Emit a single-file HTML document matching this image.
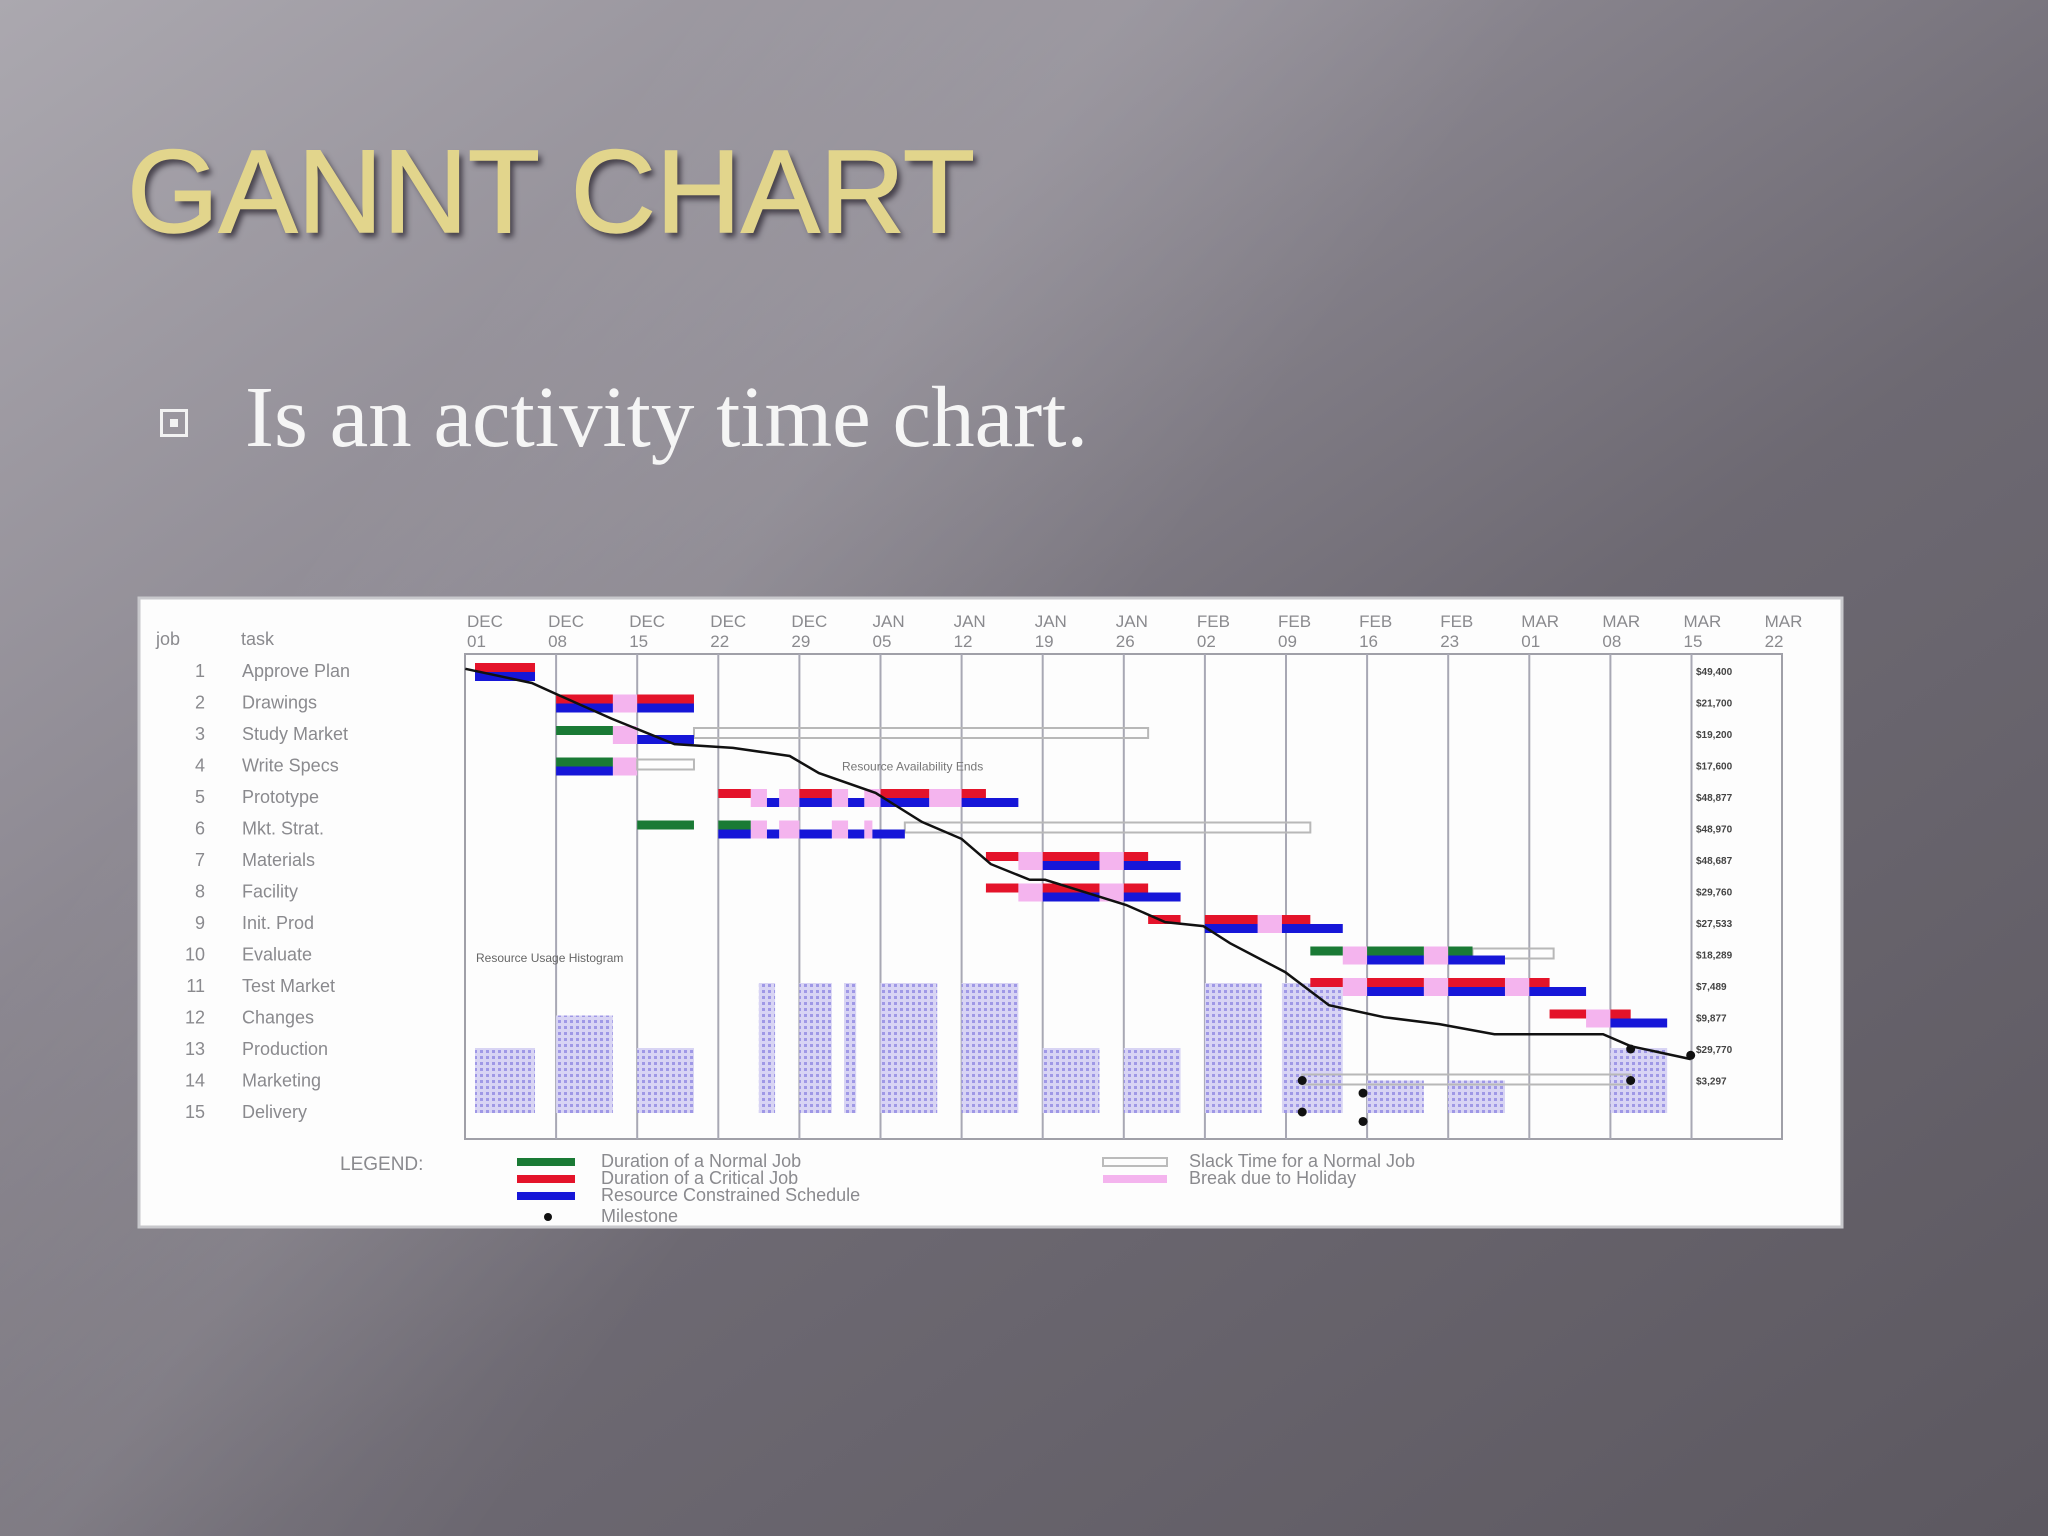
<!DOCTYPE html>
<html><head><meta charset="utf-8">
<style>
html,body{margin:0;padding:0;}
body{width:2048px;height:1536px;overflow:hidden;position:relative;
background:linear-gradient(145deg,#aba8af 0%,#8f8b94 30%,#6d6972 58%,#5c5860 100%);}
#band{position:absolute;left:0;top:0;width:2048px;height:1536px;
background:linear-gradient(125deg,rgba(255,255,255,0) 22%,rgba(255,255,255,0.09) 36%,rgba(255,255,255,0) 50%);}
#title{position:absolute;left:127px;top:124px;font:normal 118px "Liberation Sans",sans-serif;color:#e2d58c;
-webkit-text-stroke:1.5px #e2d58c;text-shadow:4px 5px 6px rgba(40,35,45,0.75);margin:0;white-space:nowrap;}
#bullet-text{position:absolute;left:245px;top:366px;font:87px "Liberation Serif",serif;color:#f5f5f5;white-space:nowrap;}
#bullet{position:absolute;left:160px;top:409px;width:28px;height:28px;border:3px solid #f2f2f2;box-sizing:border-box;}
#bullet div{position:absolute;left:7px;top:7px;width:8px;height:8px;background:#f2f2f2;}
#chart{position:absolute;left:0;top:0;}
</style></head>
<body>
<div id="band"></div>
<h1 id="title">GANNT CHART</h1>
<div id="bullet"><div></div></div>
<div id="bullet-text">Is an activity time chart.</div>
<svg id="chart" width="2048" height="1536" xmlns="http://www.w3.org/2000/svg">
<defs>
<pattern id="hatch" width="6" height="6" patternUnits="userSpaceOnUse">
<rect width="6" height="6" fill="#d8d4f4"/><rect width="3" height="3" fill="#9f98e6"/>
</pattern>
</defs>
<rect x="139" y="598" width="1703" height="629" fill="#fdfdfd" stroke="#c8c8cc" stroke-width="3"/>
<g id="g"></g>
</svg>
<script>
const months = ["DEC","DEC","DEC","DEC","DEC","JAN","JAN","JAN","JAN","FEB","FEB","FEB","FEB","MAR","MAR","MAR","MAR"];
const days = ["01","08","15","22","29","05","12","19","26","02","09","16","23","01","08","15","22"];
const jobs = ["1","2","3","4","5","6","7","8","9","10","11","12","13","14","15"];
const tasks = ["Approve Plan","Drawings","Study Market","Write Specs","Prototype","Mkt. Strat.","Materials","Facility","Init. Prod","Evaluate","Test Market","Changes","Production","Marketing","Delivery"];
const endLabels = ["$49,400","$21,700","$19,200","$17,600","$48,877","$48,970","$48,687","$29,760","$27,533","$18,289","$7,489","$9,877","$29,770","$3,297"];
// [row, startWeek, endWeek]
const holidayBars = [[2,1.7,2.0],[3,1.7,2.0],[4,1.7,2.0],[5,3.4,3.6],[5,3.75,4.0],[5,4.4,4.6],[5,4.8,5.0],[5,5.6,6.0],[6,3.4,3.6],[6,3.75,4.0],[6,4.4,4.6],[6,4.8,4.9],[7,6.7,7.0],[7,7.7,8.0],[8,6.7,7.0],[8,7.7,8.0],[9,9.65,9.95],[10,10.7,11.0],[10,11.7,12.0],[11,10.7,11.0],[11,11.7,12.0],[11,12.7,13.0],[12,13.7,14.0]];
const criticalBars = [[1,0,0.74],[2,1.0,1.7],[2,2.0,2.7],[5,3.0,3.4],[5,4.0,4.4],[5,5.0,5.6],[5,6.0,6.3],[7,6.3,6.7],[7,7.0,7.7],[7,8.0,8.3],[8,6.3,6.7],[8,7.0,7.7],[8,8.0,8.3],[9,8.3,8.7],[9,9.0,9.65],[9,9.95,10.3],[11,10.3,10.7],[11,11.0,11.7],[11,12.0,12.7],[11,13.0,13.25],[12,13.25,13.7],[12,14.0,14.25]];
const normalBars = [[3,1.0,1.7],[4,1.0,1.7],[6,2.0,2.7],[6,3.0,3.4],[10,10.3,10.7],[10,11.0,11.7],[10,12.0,12.3]];
const resourceBars = [[1,0,0.74],[2,1.0,1.7],[2,2.0,2.7],[3,2.0,2.7],[4,1.0,1.7],[5,3.6,3.75],[5,4.0,4.4],[5,4.6,4.8],[5,5.0,5.6],[5,6.0,6.7],[6,3.0,3.4],[6,3.6,3.75],[6,4.0,4.4],[6,4.6,4.8],[6,4.9,5.3],[7,7.0,7.7],[7,8.0,8.7],[8,7.0,7.7],[8,8.0,8.7],[9,9.0,9.65],[9,9.95,10.7],[10,11.0,11.7],[10,12.0,12.7],[11,11.0,11.7],[11,12.0,12.7],[11,13.0,13.7],[12,14.0,14.7]];
const slackBars = [[3,2.7,8.3],[4,2.0,2.7],[6,5.3,10.3],[10,12.3,13.3],[14,10.2,14.25]];
// histogram: [startWeek, endWeek, units]
const histStart = [0,1.0,2.0,3.5,4.0,4.55,5.0,6.0,7.0,8.0,9.0,9.95,11.0,12.0,14.0];
const histEnd   = [0.74,1.7,2.7,3.7,4.4,4.7,5.7,6.7,7.7,8.7,9.7,10.7,11.7,12.7,14.7];
const histUnits = [2,3,2,4,4,4,4,4,2,2,4,4,1,1,2];
// cumulative progress curve: week, row position
const curveWeeks = [-0.12,0.7,1.0,1.69,2.46,3.18,3.88,4.24,4.94,5.51,6.0,6.36,6.84,7.03,8.03,8.51,8.98,9.31,9.99,10.53,11.21,11.89,12.57,13.91,14.25,14.99];
const curveRows  = [0.93,1.38,1.73,2.52,3.32,3.44,3.70,4.24,4.87,5.79,6.33,7.13,7.63,7.63,8.43,8.97,9.10,9.64,10.56,11.61,11.99,12.21,12.53,12.53,12.91,13.32];
const milestoneWeeks = [10.2,10.2,10.95,10.95,14.25,14.25,14.99];
const milestoneRows  = [14,15,14.4,15.3,13,14,13.2];

const NS="http://www.w3.org/2000/svg";
const g=document.getElementById('g');
const X0=475, WK=81.1, Y1=671, RH=31.5, BASE=1113, UNIT=32.5;
const xs=w=>X0+WK*w;
const ys=r=>Y1+RH*(r-1);
const hy=u=>BASE-UNIT*u;
function mk(tag,attrs,parent){const e=document.createElementNS(NS,tag);for(const k in attrs)e.setAttribute(k,attrs[k]);(parent||g).appendChild(e);return e;}
function txt(s,attrs){const t=mk('text',attrs);t.textContent=s;return t;}

let e;
e=mk('rect',{x:465,y:654,width:1317,height:485,fill:'none',stroke:'#a0a0a8','stroke-width':2});


for(let i=0;i<months.length;i++){
  const x=xs(i);
  if(i>0 && i<=15){
    e=mk('line',{x1:x,y1:654,x2:x,y2:1139,stroke:'#a8a8b4','stroke-width':2});
    
    
  }
  e=txt(months[i],{x:x-8,y:627,'font-family':'Liberation Sans, sans-serif','font-size':17,fill:'#8a8a8e'});
  
  
  e=txt(days[i],{x:x-8,y:647,'font-family':'Liberation Sans, sans-serif','font-size':17,fill:'#8a8a8e'});
  
  
}
e=txt('job',{x:156,y:645,'font-family':'Liberation Sans, sans-serif','font-size':18,fill:'#8a8a8e'});


e=txt('task',{x:241,y:645,'font-family':'Liberation Sans, sans-serif','font-size':18,fill:'#8a8a8e'});


for(let i=0;i<tasks.length;i++){
  const y=ys(i+1)+6;
  e=txt(jobs[i],{x:205,y:y,'text-anchor':'end','font-family':'Liberation Sans, sans-serif','font-size':18,fill:'#8a8a8e'});
  
  
  e=txt(tasks[i],{x:242,y:y,'font-family':'Liberation Sans, sans-serif','font-size':18,fill:'#8a8a8e'});
  
  
}
for(let i=0;i<endLabels.length;i++){
  e=txt(endLabels[i],{x:1696,y:ys(i+1)+4,'font-family':'Liberation Sans, sans-serif','font-size':10,fill:'#444','font-weight':'bold'});
  
  
}
e=txt('Resource Usage Histogram',{x:476,y:962,'font-family':'Liberation Sans, sans-serif','font-size':12,fill:'#666'});


for(let i=0;i<histUnits.length;i++){
  e=mk('rect',{x:xs(histStart[i]),y:hy(histUnits[i]),width:xs(histEnd[i])-xs(histStart[i]),height:BASE-hy(histUnits[i]),fill:'url(#hatch)'});
  
  
}
for(const b of holidayBars){
  e=mk('rect',{x:xs(b[1]),y:ys(b[0])-8,width:xs(b[2])-xs(b[1]),height:18,fill:'#f4b4ee'});
  
  
}
for(const b of slackBars){
  e=mk('rect',{x:xs(b[1]),y:ys(b[0])-6,width:xs(b[2])-xs(b[1]),height:10,fill:'none',stroke:'#b8b8b8','stroke-width':2});
  
  
}
e=txt('Resource Availability Ends',{x:842,y:ys(4)+5,'font-family':'Liberation Sans, sans-serif','font-size':12,fill:'#777'});


for(const b of criticalBars){
  e=mk('rect',{x:xs(b[1]),y:ys(b[0])-8,width:xs(b[2])-xs(b[1]),height:9,fill:'#e4132a'});
  
  
}
for(const b of normalBars){
  e=mk('rect',{x:xs(b[1]),y:ys(b[0])-8,width:xs(b[2])-xs(b[1]),height:9,fill:'#1a7a35'});
  
  
}
for(const b of resourceBars){
  e=mk('rect',{x:xs(b[1]),y:ys(b[0])+1,width:xs(b[2])-xs(b[1]),height:9,fill:'#1616d8'});
  
  
}
let d='';
for(let i=0;i<curveWeeks.length;i++) d+=(i?'L':'M')+xs(curveWeeks[i]).toFixed(1)+' '+ys(curveRows[i]).toFixed(1);
e=mk('path',{d:d,fill:'none',stroke:'#111','stroke-width':2.5});


for(let i=0;i<milestoneWeeks.length;i++){
  e=mk('circle',{cx:xs(milestoneWeeks[i]),cy:ys(milestoneRows[i]),r:4.5,fill:'#111'});
  
  
}
e=txt('LEGEND:',{x:340,y:1170,'font-family':'Liberation Sans, sans-serif','font-size':19,fill:'#8a8a8e'});


const legL=[['#1a7a35','Duration of a Normal Job'],['#e4132a','Duration of a Critical Job'],['#1616d8','Resource Constrained Schedule']];
legL.forEach((l,i)=>{
  e=mk('rect',{x:517,y:1158+i*17,width:58,height:8,fill:l[0]});
  
  
  e=txt(l[1],{x:601,y:1167+i*17,'font-family':'Liberation Sans, sans-serif','font-size':18,fill:'#8a8a8e'});
  
  
});
e=mk('circle',{cx:548,cy:1217,r:4,fill:'#111'});


e=txt('Milestone',{x:601,y:1222,'font-family':'Liberation Sans, sans-serif','font-size':18,fill:'#8a8a8e'});


e=mk('rect',{x:1103,y:1158,width:64,height:8,fill:'none',stroke:'#bbb','stroke-width':2});


e=txt('Slack Time for a Normal Job',{x:1189,y:1167,'font-family':'Liberation Sans, sans-serif','font-size':18,fill:'#8a8a8e'});


e=mk('rect',{x:1103,y:1175,width:64,height:8,fill:'#f4b4ee'});


e=txt('Break due to Holiday',{x:1189,y:1184,'font-family':'Liberation Sans, sans-serif','font-size':18,fill:'#8a8a8e'});


</script>
</body></html>
